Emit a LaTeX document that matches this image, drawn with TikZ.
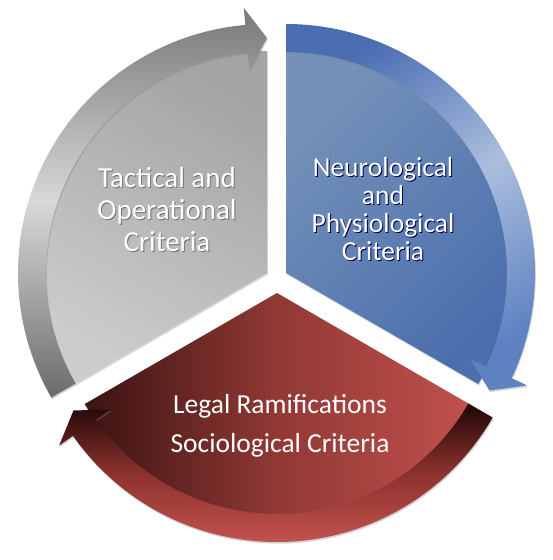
\documentclass[tikz,border=0pt]{standalone}
\usepackage{fontspec}
\setmainfont{Carlito}
\usetikzlibrary{calc,shadows}
\definecolor{grayfilltop}{HTML}{A4A5A3}
\definecolor{grayfillbot}{HTML}{CCCDCB}
\definecolor{grayringtop}{HTML}{7A7877}
\definecolor{grayringmid}{HTML}{D8D8D8}
\definecolor{grayringbot}{HTML}{6C6B6A}
\definecolor{bluefilltop}{HTML}{7591B9}
\definecolor{bluefillbot}{HTML}{4B6FAD}
\definecolor{blueringtop}{HTML}{4A6DB3}
\definecolor{blueringmid}{HTML}{ABBEDD}
\definecolor{blueringbot}{HTML}{5E81C2}
\definecolor{redfillleft}{HTML}{3A1311}
\definecolor{redfillmid}{HTML}{913935}
\definecolor{redfillright}{HTML}{C0504D}
\definecolor{redringtop}{HTML}{200807}
\definecolor{redringmid}{HTML}{8C312D}
\definecolor{redringbot}{HTML}{C2524E}
\tikzset{
  sector/.style={drop shadow={opacity=0.3,shadow xshift=0.8pt,shadow yshift=-1.6pt}},
  ring/.style={drop shadow={opacity=0.35,shadow xshift=0.8pt,shadow yshift=-1.6pt}},
  criteria/.style={text=white, align=center, inner sep=0pt, font=\fontsize{29}{32}\selectfont}
}
% ring with arrow head: #1 centre, #2 start angle, #3 tip angle
\newcommand{\arrowring}[3]{%
  ($(#1)+(#2:249)$) arc[start angle=#2, end angle={#3+5}, radius=249pt]
  -- ($(#1)+({#3+5}:266)$) -- ($(#1)+(#3:235)$) -- ($(#1)+({#3+5}:203)$)
  -- ($(#1)+({#3+5}:221)$) arc[start angle={#3+5}, end angle=#2, radius=221pt] -- cycle}
\newcommand{\sh}[2]{\rlap{\raisebox{-1pt}{\hspace{1pt}\textcolor{#1}{#2}}}#2}

\begin{document}
\begin{tikzpicture}[x=1pt, y=1pt]
  \fill[white] (0,0) rectangle (552,560);
  \useasboundingbox (0,0) rectangle (552,560);

  \coordinate (tac) at (267,287);
  \coordinate (neu) at (286,287);
  \coordinate (soc) at (277,267);

  % sectors
  \shade[sector, top color=grayfilltop, bottom color=grayfillbot, shading angle=-30]
    (tac) -- ($(tac)+(90:222)$) arc[start angle=90, end angle=210, radius=222pt] -- cycle;
  \shade[sector, top color=bluefilltop, bottom color=bluefillbot, shading angle=45]
    (neu) -- ($(neu)+(90:222)$) arc[start angle=90, end angle=-30, radius=222pt] -- cycle;
  \shade[sector, left color=redfillleft, right color=redfillright, middle color=redfillmid]
    (soc) -- ($(soc)+(210:222)$) arc[start angle=210, end angle=330, radius=222pt] -- cycle;

  % arrows
  \shade[ring, top color=grayringtop, bottom color=grayringbot, middle color=grayringmid]
    \arrowring{tac}{210}{90};
  \shade[ring, top color=blueringtop, bottom color=blueringbot, middle color=blueringmid, shading angle=30]
    \arrowring{neu}{90}{-30};
  \shade[ring, top color=redringtop, bottom color=redringbot, middle color=redringmid]
    \arrowring{soc}{-30}{-150};

  % texts
  \node[criteria] (tactical) at (167,350)
    {\sh{black!55}{Tactical and}\\\sh{black!55}{Operational}\\\sh{black!55}{Criteria}};
  \node[criteria, font=\fontsize{27.5}{28}\selectfont] (neurological) at (383,350)
    {\sh{blue!30!black}{Neurological}\\\sh{blue!30!black}{and}\\\sh{blue!30!black}{Physiological}\\\sh{blue!30!black}{Criteria}};
  \node[criteria, font=\fontsize{27.5}{39}\selectfont] (sociological) at (280,134)
    {Legal Ramifications\\Sociological Criteria};
\end{tikzpicture}
\end{document}
